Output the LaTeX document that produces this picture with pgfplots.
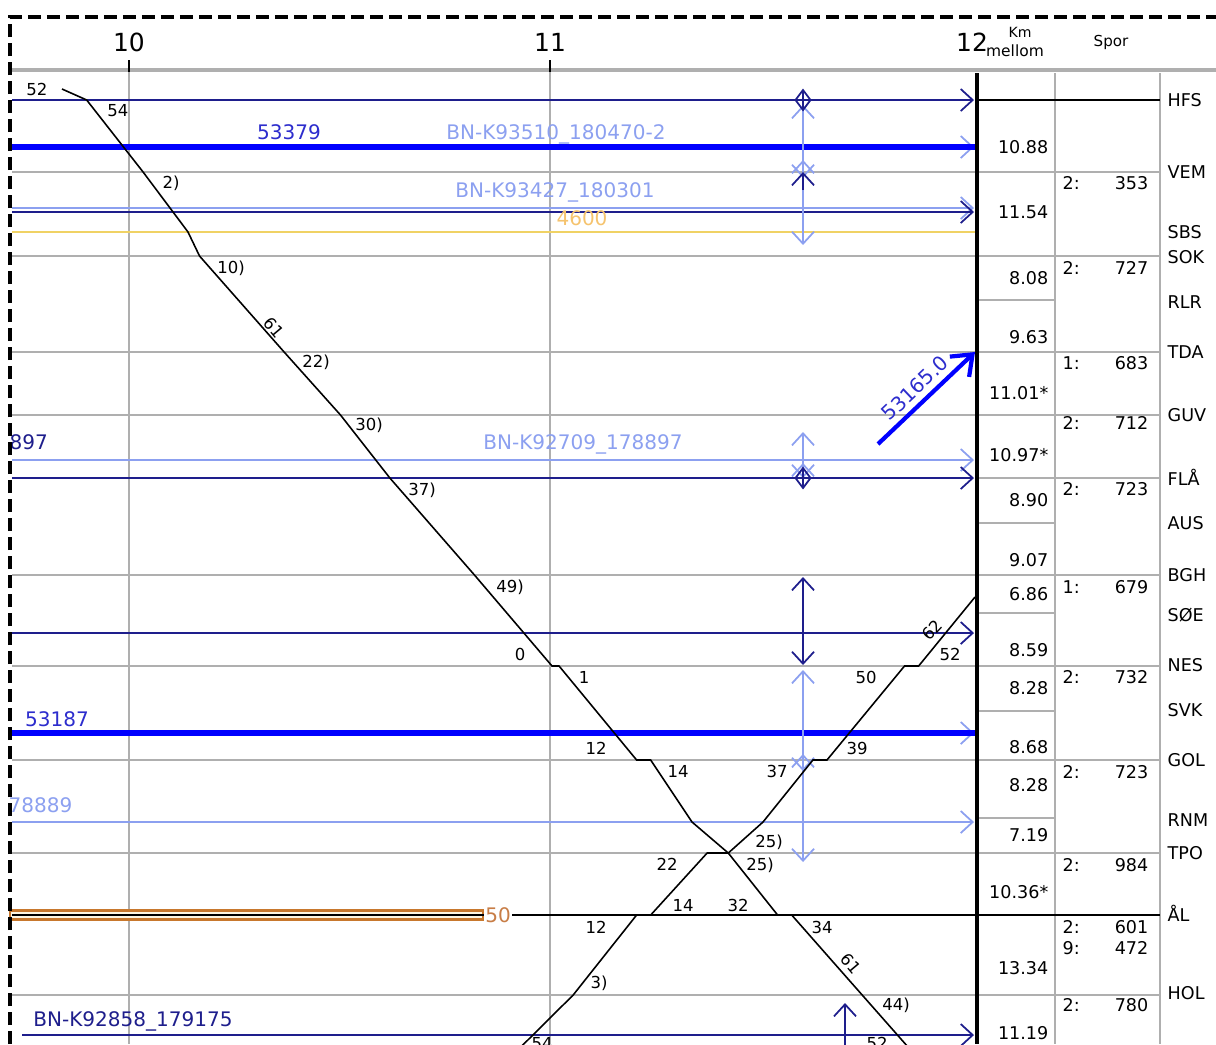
\documentclass[border=0pt]{standalone}
\usepackage{fontspec}
\setmainfont{DejaVu Sans}
\usepackage{pgfplots}
\pgfplotsset{compat=1.18}
\usepackage{pgfplotstable}
\usetikzlibrary{arrows.meta}
\definecolor{navyc}{RGB}{30,30,140}
\definecolor{lightb}{RGB}{140,160,240}
\definecolor{tblue}{RGB}{0,0,255}
\definecolor{lblue}{RGB}{45,45,205}
\definecolor{goldl}{RGB}{240,210,100}
\definecolor{goldt}{RGB}{245,195,110}
\definecolor{orangec}{RGB}{200,120,45}
\definecolor{oranget}{RGB}{200,125,70}
\definecolor{cream}{RGB}{255,246,225}
\definecolor{gridg}{RGB}{175,175,175}

% train A (southbound): time in hours, y = station position
\pgfplotstableread{
t y
9.8416 89
9.9000 100
10.0333 172
10.1395 232
10.1667 256
10.3667 352
10.5000 415
10.6167 478
10.8167 575
11.0000 666
11.0167 666
11.2000 760
11.2333 760
11.3310 822
11.4167 853
11.5333 915
11.5667 915
11.7333 995
11.8667 1059
}\trainA
% train B (northbound)
\pgfplotstableread{
t y
10.9000 1058
11.0500 995
11.2000 915
11.2333 915
11.3667 853
11.4167 853
11.4988 822
11.6167 760
11.6500 760
11.8333 666
11.8667 666
12.0000 597
}\trainB

\begin{document}
\begin{tikzpicture}[
  barb/.style={-{Straight Barb[length=1.2mm,width=2.2mm]}},
  dbarb/.style={{Straight Barb[length=1.2mm,width=2.2mm]}-{Straight Barb[length=1.2mm,width=2.2mm]}},
  thn/.style={line width=0.5pt},
  ml/.style={font=\fontsize{4.7}{5.6}\selectfont, inner sep=0pt, anchor=base, yshift=-1.7pt},
  tl/.style={font=\fontsize{5.7}{6.8}\selectfont, inner sep=0pt, anchor=base, yshift=-2.1pt},
  tb/.style={font=\fontsize{5.0}{6}\selectfont, inner sep=0pt, yshift=-1.8pt},
]
\begin{axis}[name=ax, scale only axis, width=12.16cm, height=10.44cm,
  xmin=0, xmax=1216, ymin=0, ymax=1044, y dir=reverse, hide axis, clip=true]

% ---- grid and table frame ----
\draw[gridg, line width=1.4pt] (10,70) -- (1216,70);
\draw[black, line width=0.4pt] (129,60) -- (129,72);
\draw[black, line width=0.4pt] (550,60) -- (550,72);
\draw[gridg, line width=0.55pt] (129,72) -- (129,1044);
\draw[gridg, line width=0.55pt] (550,72) -- (550,1044);
\draw[gridg, line width=0.55pt] (1055,73) -- (1055,1044);
\draw[gridg, line width=0.55pt] (1160,73) -- (1160,1044);
\draw[gridg, line width=0.55pt] (12,172) -- (1160,172);
\draw[gridg, line width=0.55pt] (12,256) -- (1160,256);
\draw[gridg, line width=0.55pt] (12,352) -- (1160,352);
\draw[gridg, line width=0.55pt] (12,415) -- (1160,415);
\draw[gridg, line width=0.55pt] (977,478) -- (1160,478);
\draw[gridg, line width=0.55pt] (12,575) -- (1160,575);
\draw[gridg, line width=0.55pt] (12,666) -- (1160,666);
\draw[gridg, line width=0.55pt] (12,760) -- (1160,760);
\draw[gridg, line width=0.55pt] (12,853) -- (1160,853);
\draw[gridg, line width=0.55pt] (12,995) -- (1160,995);
\draw[gridg, line width=0.55pt] (977,300) -- (1055,300);
\draw[gridg, line width=0.55pt] (977,523) -- (1055,523);
\draw[gridg, line width=0.55pt] (977,613) -- (1055,613);
\draw[gridg, line width=0.55pt] (977,711) -- (1055,711);
\draw[gridg, line width=0.55pt] (977,818) -- (1055,818);
\draw[black, line width=0.5pt] (977,100) -- (1160,100);

% AL block
\draw[orangec, line width=0.6pt, fill=cream] (10,910.5) rectangle (483,919.5);
\draw[black, line width=0.5pt] (12,915) -- (1160,915);
\node[font=\fontsize{5.7}{6.8}\selectfont, text=oranget, fill=white, inner sep=0.4pt] at (498,915) {50};

% ---- horizontal train lines ----
\addplot[navyc, thn, barb] coordinates {(12,100) (974,100)};
\addplot[lightb, thn, barb] coordinates {(12,147) (974,147)};
\addplot[tblue, line width=1.7pt] coordinates {(12,147) (975,147)};
\addplot[lightb, thn, barb] coordinates {(12,208) (974,208)};
\addplot[navyc, thn, barb] coordinates {(12,212) (974,212)};
\addplot[goldl, thn] coordinates {(12,232) (975,232)};
\addplot[lightb, thn, barb] coordinates {(12,460) (974,460)};
\addplot[navyc, thn, barb] coordinates {(12,478) (974,478)};
\addplot[navyc, thn, barb] coordinates {(12,633) (974,633)};
\addplot[lightb, thn, barb] coordinates {(12,733) (974,733)};
\addplot[tblue, line width=1.8pt] coordinates {(12,733) (975,733)};
\addplot[lightb, thn, barb] coordinates {(12,822) (974,822)};
\addplot[navyc, thn, barb] coordinates {(22,1035) (974,1035)};

% ---- vertical arrows at 11:35 ----
\addplot[lightb, thn, dbarb] coordinates {(803,105) (803,178)};
\addplot[lightb, thn, dbarb] coordinates {(803,160) (803,245)};
\addplot[navyc, thn, barb] coordinates {(803,190) (803,172)};
\addplot[navyc, thn] coordinates {(803,90) (803,110)};
\addplot[navyc, thn, only marks, mark=diamond, mark size=1mm] coordinates {(803,100)};
\addplot[lightb, thn, dbarb] coordinates {(803,432) (803,478)};
\addplot[lightb, thn, barb] coordinates {(803,478) (803,463)};
\addplot[navyc, thn] coordinates {(803,468) (803,488)};
\addplot[navyc, thn, only marks, mark=diamond, mark size=1mm] coordinates {(803,478)};
\addplot[navyc, thn, dbarb] coordinates {(803,577) (803,665)};
\addplot[lightb, thn, dbarb] coordinates {(803,670) (803,771)};
\addplot[lightb, thn, dbarb] coordinates {(803,754) (803,862)};
\addplot[navyc, thn, barb] coordinates {(845,1050) (845,1003)};

% ---- blue arrow 53165.0 ----
\addplot[tblue, line width=1.2pt, -{Straight Barb[length=1.8mm,width=2.8mm]}] coordinates {(878,444) (975,352)};
\node[font=\fontsize{5.7}{6.8}\selectfont, text=lblue, inner sep=0pt, rotate=43.5] at (915,388) {53165.0};

% ---- train paths ----
\addplot[black, line width=0.45pt] table[x expr={129+423*(\thisrow{t}-10)}, y=y] {\trainA};
\addplot[black, line width=0.45pt] table[x expr={129+423*(\thisrow{t}-10)}, y=y] {\trainB};

% ---- train labels ----
\node[tl, text=lblue] at (289,132) {53379};
\node[tl, text=lightb] at (556,132) {BN-K93510\_180470-2};
\node[tl, text=lightb] at (555,190) {BN-K93427\_180301};
\node[tl, text=goldt] at (582,218) {4600};
\node[tl, text=navyc, anchor=base west] at (9,442) {897};
\node[tl, text=lightb] at (583,442) {BN-K92709\_178897};
\node[tl, text=lblue] at (57,719) {53187};
\node[tl, text=lightb, anchor=base west] at (8,805) {78889};
\node[tl, text=navyc] at (133,1019) {BN-K92858\_179175};

% ---- minute labels train A ----
\node[ml] at (37,90) {52};
\node[ml] at (118,111) {54};
\node[ml] at (171,183) {2)};
\node[ml] at (231,268) {10)};
\node[font=\fontsize{4.7}{5.6}\selectfont, inner sep=0pt, rotate=-50] at (274,328) {61};
\node[ml] at (316,362) {22)};
\node[ml] at (369,425) {30)};
\node[ml] at (422,490) {37)};
\node[ml] at (510,587) {49)};
\node[ml] at (520,655) {0};
\node[ml] at (584,677) {1};
\node[ml] at (596,748) {12};
\node[ml] at (678,771) {14};
\node[ml] at (760,864) {25)};
\node[ml] at (738,905) {32};
\node[ml] at (822,927) {34};
\node[font=\fontsize{4.7}{5.6}\selectfont, inner sep=0pt, rotate=-50] at (851,964) {61};
\node[ml] at (896,1004) {44)};
\node[ml] at (877,1043) {52};
% ---- minute labels train B ----
\node[ml] at (542,1043) {54};
\node[ml] at (599,982) {3)};
\node[ml] at (596,927) {12};
\node[ml] at (683,905) {14};
\node[ml] at (667,864) {22};
\node[ml] at (769,841) {25)};
\node[ml] at (777,771) {37};
\node[ml] at (857,748) {39};
\node[ml] at (866,677) {50};
\node[ml] at (950,655) {52};
\node[font=\fontsize{4.7}{5.6}\selectfont, inner sep=0pt, rotate=47] at (932,630) {62};

% thick vertical line at 12:00
\draw[black, line width=1.4pt] (977,73) -- (977,1044);

% ---- header ----
\node[font=\fontsize{7.1}{8.5}\selectfont, inner sep=0pt] at (129,42) {10};
\node[font=\fontsize{7.1}{8.5}\selectfont, inner sep=0pt] at (550,42) {11};
\node[font=\fontsize{7.1}{8.5}\selectfont, inner sep=0pt] at (972,42) {12};
\node[font=\fontsize{4.0}{4.5}\selectfont, inner sep=0pt] at (1020,32) {Km};
\node[font=\fontsize{4.4}{5}\selectfont, inner sep=0pt] at (1015,51) {mellom};
\node[font=\fontsize{4.3}{5}\selectfont, inner sep=0pt] at (1111,42) {Spor};

% ---- km column ----
\node[tb, anchor=base east] at (1049,147) {10.88};
\node[tb, anchor=base east] at (1049,212) {11.54};
\node[tb, anchor=base east] at (1049,278) {8.08};
\node[tb, anchor=base east] at (1049,337) {9.63};
\node[tb, anchor=base east] at (1049,393) {11.01*};
\node[tb, anchor=base east] at (1049,455) {10.97*};
\node[tb, anchor=base east] at (1049,500) {8.90};
\node[tb, anchor=base east] at (1049,560) {9.07};
\node[tb, anchor=base east] at (1049,594) {6.86};
\node[tb, anchor=base east] at (1049,650) {8.59};
\node[tb, anchor=base east] at (1049,688) {8.28};
\node[tb, anchor=base east] at (1049,747) {8.68};
\node[tb, anchor=base east] at (1049,785) {8.28};
\node[tb, anchor=base east] at (1049,835) {7.19};
\node[tb, anchor=base east] at (1049,892) {10.36*};
\node[tb, anchor=base east] at (1049,968) {13.34};
\node[tb, anchor=base east] at (1049,1033) {11.19};

% ---- spor column ----
\node[tb, anchor=base west] at (1062,183) {2:};  \node[tb, anchor=base east] at (1149,183) {353};
\node[tb, anchor=base west] at (1062,268) {2:};  \node[tb, anchor=base east] at (1149,268) {727};
\node[tb, anchor=base west] at (1062,363) {1:};  \node[tb, anchor=base east] at (1149,363) {683};
\node[tb, anchor=base west] at (1062,423) {2:};  \node[tb, anchor=base east] at (1149,423) {712};
\node[tb, anchor=base west] at (1062,489) {2:};  \node[tb, anchor=base east] at (1149,489) {723};
\node[tb, anchor=base west] at (1062,587) {1:};  \node[tb, anchor=base east] at (1149,587) {679};
\node[tb, anchor=base west] at (1062,677) {2:};  \node[tb, anchor=base east] at (1149,677) {732};
\node[tb, anchor=base west] at (1062,772) {2:};  \node[tb, anchor=base east] at (1149,772) {723};
\node[tb, anchor=base west] at (1062,865) {2:};  \node[tb, anchor=base east] at (1149,865) {984};
\node[tb, anchor=base west] at (1062,927) {2:};  \node[tb, anchor=base east] at (1149,927) {601};
\node[tb, anchor=base west] at (1062,948) {9:};  \node[tb, anchor=base east] at (1149,948) {472};
\node[tb, anchor=base west] at (1062,1005) {2:}; \node[tb, anchor=base east] at (1149,1005) {780};

% ---- station names ----
\node[tb, anchor=base west] at (1167,100) {HFS};
\node[tb, anchor=base west] at (1167,172) {VEM};
\node[tb, anchor=base west] at (1167,232) {SBS};
\node[tb, anchor=base west] at (1167,257) {SOK};
\node[tb, anchor=base west] at (1167,302) {RLR};
\node[tb, anchor=base west] at (1167,352) {TDA};
\node[tb, anchor=base west] at (1167,415) {GUV};
\node[tb, anchor=base west] at (1167,479) {FLÅ};
\node[tb, anchor=base west] at (1167,523) {AUS};
\node[tb, anchor=base west] at (1167,575) {BGH};
\node[tb, anchor=base west] at (1167,615) {SØE};
\node[tb, anchor=base west] at (1167,665) {NES};
\node[tb, anchor=base west] at (1167,710) {SVK};
\node[tb, anchor=base west] at (1167,760) {GOL};
\node[tb, anchor=base west] at (1167,820) {RNM};
\node[tb, anchor=base west] at (1167,853) {TPO};
\node[tb, anchor=base west] at (1167,915) {ÅL};
\node[tb, anchor=base west] at (1167,993) {HOL};

% dashed page border
\draw[black, line width=0.9pt, dash pattern=on 1.3mm off 0.6mm] (10,1044) -- (10,17) -- (1216,17);
\end{axis}
\pgfresetboundingbox
\path[use as bounding box] (ax.south west) rectangle (ax.north east);
\end{tikzpicture}
\end{document}
